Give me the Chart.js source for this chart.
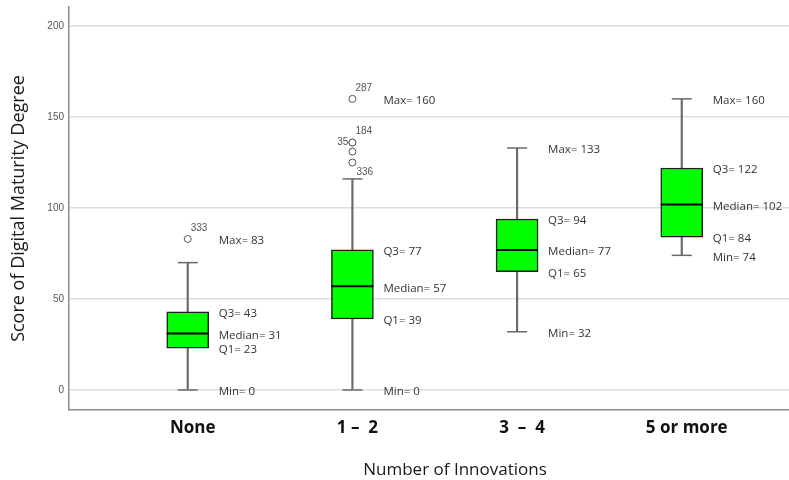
<!DOCTYPE html>
<html>
<head>
<meta charset="utf-8">
<script src="https://cdn.jsdelivr.net/npm/chart.js@4/dist/chart.umd.min.js"></script>
<style>
  html, body { margin: 0; padding: 0; background: #fff; overflow: hidden; }
  #frame { width: 789px; height: 480px; overflow: hidden; }
  canvas { display: block; }
</style>
</head>
<body>
<div id="frame"><canvas id="c" width="841" height="480"></canvas></div>
<script>
// Groups and their box-plot summaries
const categories = ['None', '1 –  2', '3  –  4', '5 or more'];
const minimum = [0, 0, 32, 74];
const q1 = [23, 39, 65, 84];
const median = [31, 57, 77, 102];
const q3 = [43, 77, 94, 122];
const whiskerHigh = [70, 116, 133, 160];
const maximum = [83, 160, 133, 160];

// Outlying cases (group number, score, case id)
const outlierGroup = [1, 2, 2, 2, 2, 2];
const outlierValue = [83, 160, 136, 136, 131, 125];
const outlierCase = ['333', '287', '184', '35', '', '336'];

const yTicks = [0, 50, 100, 150, 200];

const positions = categories.map((_, i) => i + 1);

// where each case id sits relative to its circle
const caseLabelSide = ['ne', 'ne', 'ne', 'w', '', 'se'];
const sideOffsets = { ne: [3, -11, 'left'], w: [-4, 0, 'right'], se: [4, 10, 'left'] };

const statLabels = {
  id: 'statLabels',
  afterDatasetsDraw(chart) {
    const { ctx, scales: { x, y } } = chart;
    ctx.save();
    ctx.font = '11.5px "Open Sans"';
    ctx.fillStyle = '#333';
    ctx.textBaseline = 'middle';
    ctx.textAlign = 'left';
    positions.forEach((p, i) => {
      const px = x.getPixelForValue(p) + 31;
      [['Max= ', maximum[i]], ['Q3= ', q3[i]], ['Median= ', median[i]],
       ['Q1= ', q1[i]], ['Min= ', minimum[i]]].forEach(([t, v]) => {
        ctx.fillText(t + v, px, y.getPixelForValue(v) + 2);
      });
    });
    ctx.font = '10px "Liberation Sans", Arial, sans-serif';
    ctx.fillStyle = '#555';
    outlierValue.forEach((v, i) => {
      const side = sideOffsets[caseLabelSide[i]];
      if (!side || !outlierCase[i]) return;
      ctx.textAlign = side[2];
      ctx.fillText(outlierCase[i], x.getPixelForValue(outlierGroup[i]) + side[0], y.getPixelForValue(v) + side[1]);
    });
    ctx.restore();
  }
};

new Chart(document.getElementById('c'), {
  type: 'bar',
  data: {
    datasets: [
      {
        // whisker stems
        type: 'bar',
        data: positions.map((p, i) => ({ x: p, y: [minimum[i], whiskerHigh[i]] })),
        backgroundColor: '#6a6a6a',
        barThickness: 1.5,
        grouped: false,
        order: 5
      },
      {
        // interquartile boxes
        type: 'bar',
        data: positions.map((p, i) => ({ x: p, y: [q1[i], q3[i]] })),
        backgroundColor: '#00ff00',
        borderColor: '#1e1e1e',
        borderWidth: 1.5,
        borderSkipped: false,
        barThickness: 42,
        grouped: false,
        order: 4
      },
      {
        // whisker caps
        type: 'scatter',
        data: positions.flatMap((p, i) => [{ x: p, y: whiskerHigh[i] }, { x: p, y: minimum[i] }]),
        pointStyle: 'line',
        pointRadius: 10,
        borderColor: '#6a6a6a',
        borderWidth: 1.5,
        order: 3
      },
      {
        // medians
        type: 'scatter',
        data: positions.map((p, i) => ({ x: p, y: median[i] })),
        pointStyle: 'line',
        pointRadius: 21,
        borderColor: '#000',
        borderWidth: 2,
        order: 2
      },
      {
        // outliers
        type: 'scatter',
        data: outlierValue.map((v, i) => ({ x: outlierGroup[i], y: v })),
        pointStyle: 'circle',
        pointRadius: 3.5,
        backgroundColor: '#fff',
        borderColor: '#555',
        borderWidth: 1,
        order: 1
      }
    ]
  },
  options: {
    responsive: false,
    animation: false,
    devicePixelRatio: 1,
    events: [],
    layout: { autoPadding: false, padding: { left: 0, top: 7, right: 0, bottom: 0 } },
    plugins: { legend: { display: false }, tooltip: { enabled: false } },
    scales: {
      x: {
        type: 'linear',
        offset: false,
        min: 0.279,
        max: 4.967,
        afterBuildTicks: s => { s.ticks = positions.map(v => ({ value: v })); },
        afterFit: s => { s.height = 70; s.paddingLeft = 0; s.paddingRight = 0; },
        grid: { display: false, drawTicks: false, offset: false },
        border: { display: true, color: '#8c8c8c', width: 1.5 },
        ticks: {
          padding: 8,
          labelOffset: 5,
          autoSkip: false,
          maxRotation: 0,
          color: '#111',
          font: { family: 'Open Sans', size: 17, weight: 'bold' },
          callback: v => categories[v - 1]
        },
        title: {
          display: true,
          text: 'Number of Innovations',
          color: '#1a1a1a',
          font: { family: 'Open Sans', size: 17 },
          padding: { top: 0, bottom: 0 }
        }
      },
      y: {
        min: -11,
        max: 210.5,
        offset: false,
        afterBuildTicks: s => { s.ticks = yTicks.map(v => ({ value: v })); },
        afterFit: s => { s.width = 69; s.paddingTop = 0; s.paddingBottom = 0; },
        grid: { color: '#dcdcdc', lineWidth: 1.5, drawTicks: false },
        border: { display: true, color: '#8c8c8c', width: 1.5 },
        ticks: {
          padding: 5,
          color: '#555',
          font: { family: 'Liberation Sans', size: 10 }
        },
        title: {
          display: true,
          text: 'Score of Digital Maturity Degree',
          color: '#1a1a1a',
          font: { family: 'Open Sans', size: 18 },
          padding: { top: 8, bottom: 0 }
        }
      }
    }
  },
  plugins: [statLabels]
});
</script>
</body>
</html>
